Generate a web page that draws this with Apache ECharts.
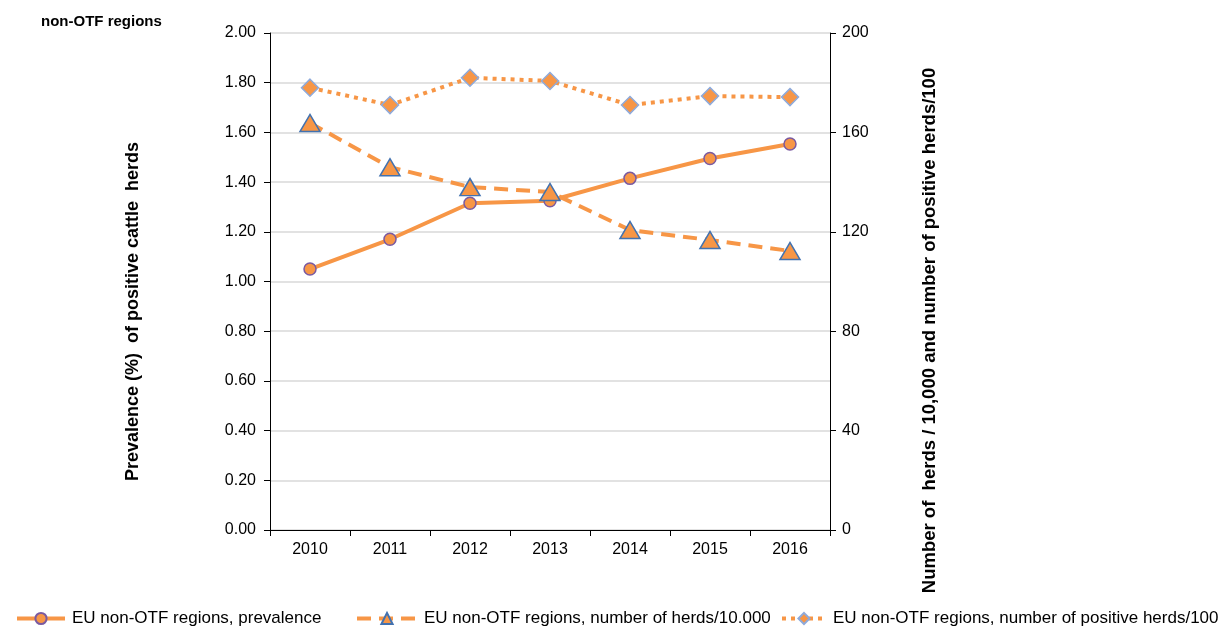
<!DOCTYPE html>
<html>
<head>
<meta charset="utf-8">
<script src="https://cdn.jsdelivr.net/npm/echarts@6/dist/echarts.min.js"></script>
<style>
  html, body { margin: 0; padding: 0; background: #fff; }
  #chart { width: 1223px; height: 635px; }
</style>
</head>
<body>
<div id="chart"></div>
<script>
  // years on the x axis
  var years = ['2010', '2011', '2012', '2013', '2014', '2015', '2016'];
  // prevalence (%), left axis
  var prevalence = [1.05, 1.17, 1.315, 1.325, 1.415, 1.495, 1.553];
  // number of herds / 10.000, right axis
  var herds = [163.8, 146, 138, 136, 120.7, 116.7, 112.3];
  // number of positive herds / 100, right axis
  var positiveHerds = [178, 171, 182, 180.7, 171, 174.6, 174.2];
  // legend / series names
  var names = [
    'EU non-OTF regions, prevalence',
    'EU non-OTF regions, number of herds/10.000',
    'EU non-OTF regions, number of positive herds/100'
  ];

  var orange = '#f79646';
  var font = 'Liberation Sans, Arial, sans-serif';

  function legendAt(left, name, w) {
    return {
      bottom: 3, left: left,
      itemWidth: w, itemHeight: 14, itemGap: 0,
      lineStyle: { width: 4 },
      textStyle: { fontSize: 17, color: '#000', fontFamily: font, padding: [0, 0, 0, 2] },
      data: [name]
    };
  }

  var myChart = echarts.init(document.getElementById('chart'));
  myChart.setOption({
    animation: false,
    textStyle: { fontFamily: font },
    title: {
      text: 'non-OTF regions',
      left: 36, top: 9,
      textStyle: { fontSize: 15, fontWeight: 'bold', color: '#000', fontFamily: font }
    },
    grid: { left: 270, right: 393, top: 33, bottom: 105 },
    legend: [
      legendAt(10, names[0], 48),
      legendAt(350, names[1], 60),
      legendAt(775, names[2], 44)
    ],
    xAxis: {
      type: 'category',
      data: years,
      boundaryGap: true,
      axisLine: { lineStyle: { color: '#000', width: 1 } },
      axisTick: { show: true, inside: false, length: 6, lineStyle: { color: '#000' } },
      axisLabel: { fontSize: 16, color: '#000', margin: 12 },
      splitLine: { show: false }
    },
    yAxis: [
      {
        type: 'value',
        min: 0, max: 2, interval: 0.2,
        name: 'Prevalence (%)  of positive cattle  herds',
        nameLocation: 'middle',
        nameGap: 128,
        nameTextStyle: { fontSize: 18, fontWeight: 'bold', color: '#000', padding: [0, 60, 0, 0] },
        axisLine: { show: true, lineStyle: { color: '#000' } },
        axisTick: { show: true, length: 6, lineStyle: { color: '#000' } },
        axisLabel: {
          fontSize: 16, color: '#000', margin: 14,
          formatter: function (v) { return v.toFixed(2); }
        },
        splitLine: { show: true, lineStyle: { color: '#d9d9d9', width: 1.5 } }
      },
      {
        type: 'value',
        min: 0, max: 200, interval: 40,
        name: 'Number of  herds / 10,000 and number of positive herds/100',
        nameLocation: 'middle',
        nameGap: 90,
        nameRotate: 90,
        nameTextStyle: { fontSize: 18.5, fontWeight: 'bold', color: '#000', padding: [0, 98, 0, 0] },
        axisLine: { show: true, lineStyle: { color: '#000' } },
        axisTick: { show: true, length: 6, lineStyle: { color: '#000' } },
        axisLabel: { fontSize: 16, color: '#000', margin: 12 },
        splitLine: { show: false }
      }
    ],
    series: [
      {
        name: names[0],
        type: 'line',
        yAxisIndex: 0,
        data: prevalence,
        symbol: 'circle',
        symbolSize: 12,
        lineStyle: { color: orange, width: 4 },
        itemStyle: { color: orange, borderColor: '#7a5aa0', borderWidth: 1.5 },
        z: 3
      },
      {
        name: names[1],
        type: 'line',
        yAxisIndex: 1,
        data: herds,
        symbol: 'triangle',
        symbolSize: [20, 17],
        lineStyle: { color: orange, width: 4, type: [14, 8] },
        itemStyle: { color: orange, borderColor: '#4272b0', borderWidth: 1.5 },
        z: 4
      },
      {
        name: names[2],
        type: 'line',
        yAxisIndex: 1,
        data: positiveHerds,
        symbol: 'diamond',
        symbolSize: [17, 17],
        lineStyle: { color: orange, width: 4, type: [4, 5] },
        itemStyle: { color: orange, borderColor: '#8eaadb', borderWidth: 1.5 },
        z: 2
      }
    ]
  });
</script>
</body>
</html>
